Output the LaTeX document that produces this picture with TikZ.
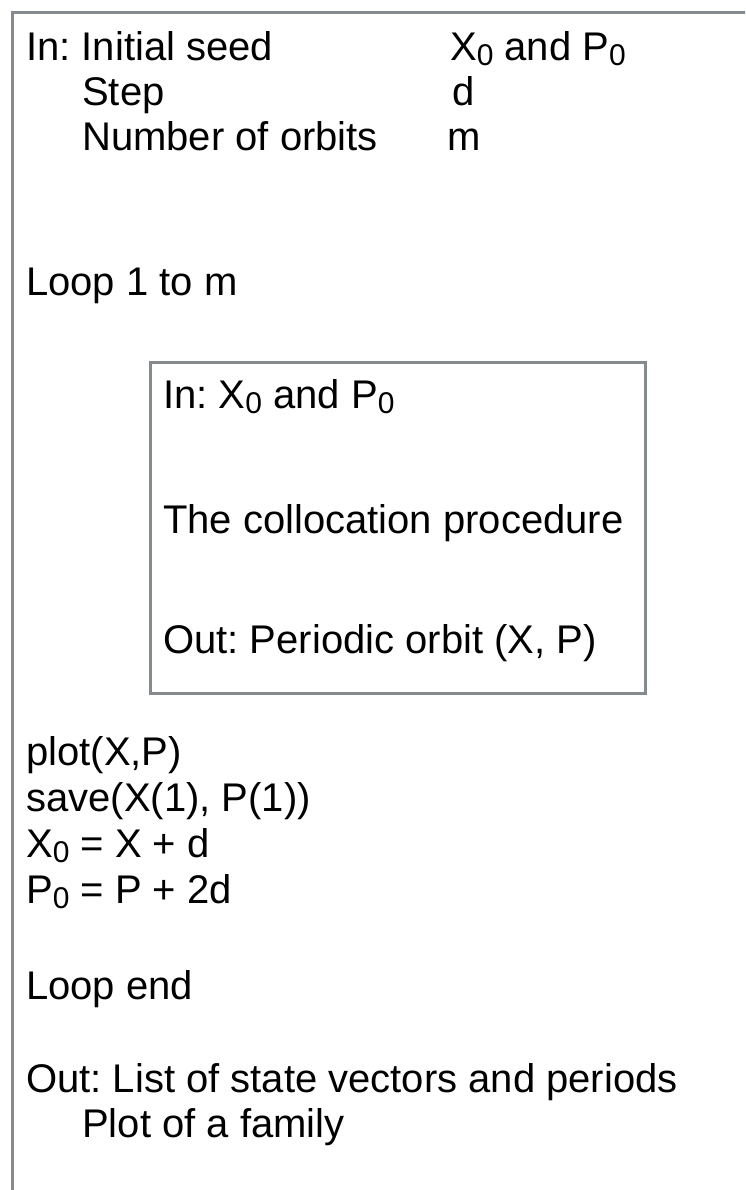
\documentclass[tikz,border=0pt]{standalone}
\usepackage{fontspec}
\setmainfont{Liberation Sans}
\usepackage{tikz}
\frenchspacing
\definecolor{framegray}{HTML}{858A8E}
\newcommand{\lowsub}[1]{\raisebox{-5pt}{\fontsize{30}{30}\selectfont #1}}
\tikzset{
  line/.style={anchor=base west,inner sep=0pt,font=\fontsize{40}{44}\selectfont},
  panel/.style={draw=framegray,line width=3pt}
}

\begin{document}
\begin{tikzpicture}[x=1pt,y=-1pt]
        \useasboundingbox (0,0) rectangle (745,1190);
        \clip (0,0) rectangle (745,1190);
        % outer frame, runs past the page on the right and bottom
        \draw[panel] (12.5,13) rectangle (770,1220);
        % inputs
        \node[line] (in) at (26,61) {In: Initial seed};
        \node[line] (step) at (82,106) {Step};
        \node[line] (norb) at (82,151) {Number of orbits};
        \node[line] (seed) at (450,61) {X\lowsub{0} and P\lowsub{0}};
        \node[line] (d) at (452,106) {d};
        \node[line] (m) at (447,151) {m};
        \node[line] (loop) at (26,295) {Loop 1 to m};
        % inner procedure
        \draw[panel] (150,362) rectangle (645,693);
        \node[line] (pin) at (163,408) {In: X\lowsub{0} and P\lowsub{0}};
        \node[line] (coll) at (163,533) {The collocation procedure};
        \node[line] (pout) at (163,653) {Out: Periodic orbit (X, P)};
        % update
        \node[line] (plot) at (26,765) {plot(X,P)};
        \node[line] (save) at (26,811) {save(X(1), P(1))};
        \node[line] (xnew) at (26,857) {X\lowsub{0} = X + d};
        \node[line] (pnew) at (26,903) {P\lowsub{0} = P + 2d};
        \node[line] (lend) at (26,999) {Loop end};
        % outputs
        \node[line] (out) at (26,1092) {Out: List of state vectors and periods};
        \node[line] (fam) at (82,1137) {Plot of a family};
      \end{tikzpicture}
\end{document}
